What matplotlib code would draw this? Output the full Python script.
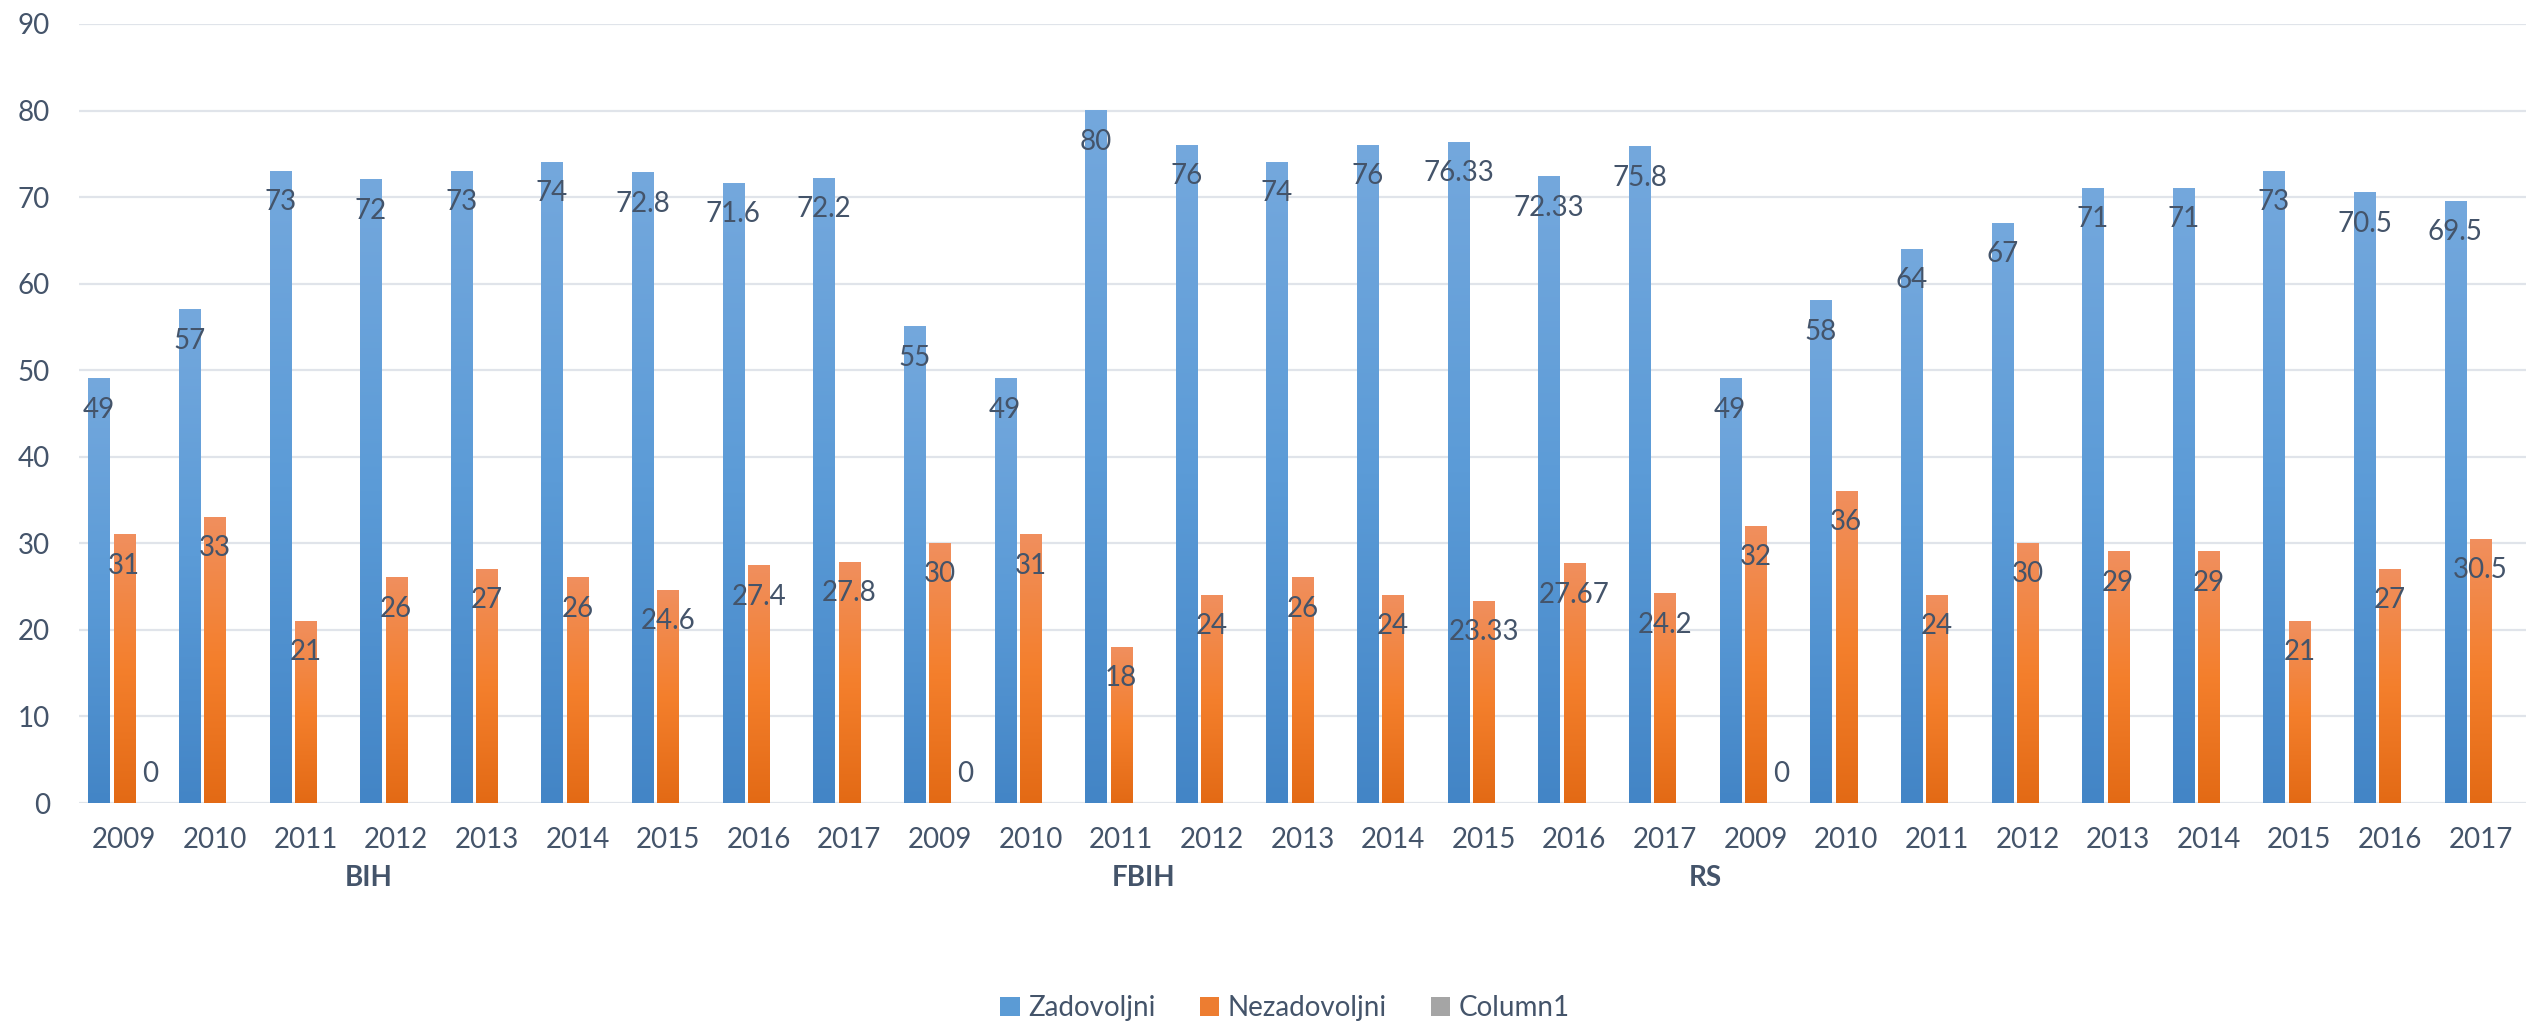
import numpy as np
import matplotlib
matplotlib.use("Agg")
import matplotlib.pyplot as plt
import matplotlib.transforms as mtransforms
from matplotlib.colors import LinearSegmentedColormap
from matplotlib.patches import Patch

plt.rcParams['font.family'] = ['Lato', 'DejaVu Sans']

groups = ['BIH', 'FBIH', 'RS']
years = ['2009', '2010', '2011', '2012', '2013', '2014', '2015', '2016', '2017']
series_names = ['Zadovoljni', 'Nezadovoljni', 'Column1']

zadovoljni = [49, 57, 73, 72, 73, 74, 72.8, 71.6, 72.2,
              55, 49, 80, 76, 74, 76, 76.33, 72.33, 75.8,
              49, 58, 64, 67, 71, 71, 73, 70.5, 69.5]
nezadovoljni = [31, 33, 21, 26, 27, 26, 24.6, 27.4, 27.8,
                30, 31, 18, 24, 26, 24, 23.33, 27.67, 24.2,
                32, 36, 24, 30, 29, 29, 21, 27, 30.5]
nan = float('nan')
column1 = [0, nan, nan, nan, nan, nan, nan, nan, nan,
           0, nan, nan, nan, nan, nan, nan, nan, nan,
           0, nan, nan, nan, nan, nan, nan, nan, nan]

TEXT = '#44546A'
GRID = '#E0E4EA'

W, H = 2526, 1024
fig = plt.figure(figsize=(W / 100, H / 100), dpi=100)
ax = fig.add_axes([79 / W, 1 - 803 / H, 1 - 79 / W, (803 - 24) / H])

n = len(zadovoljni)
x = np.arange(n)
bw = 0.235
off = 0.28

cm_blue = LinearSegmentedColormap.from_list('b', ['#4385C6', '#5B9BD7', '#74A8DD'])
cm_orange = LinearSegmentedColormap.from_list('o', ['#E36A15', '#F47F2C', '#F08F5E'])
cm_gray = LinearSegmentedColormap.from_list('g', ['#8F8F8F', '#A5A5A5', '#B5B5B5'])
grad = np.linspace(0, 1, 256).reshape(-1, 1)


def grad_bars(xs, vals, cmap, label_dy):
    bars = ax.bar(xs, vals, bw, color='none', edgecolor='none', zorder=2)
    for b, v in zip(bars, vals):
        if not np.isfinite(v):
            continue
        x0 = b.get_x()
        h = b.get_height()
        if h > 0:
            ax.imshow(grad, extent=[x0, x0 + bw, 0, h], origin='lower',
                      aspect='auto', cmap=cmap, zorder=2, interpolation='bilinear')
        dy = label_dy if v > 0 else 29
        ax.annotate(f"{v:g}", (x0 + bw / 2, v), xytext=(0, dy),
                    textcoords='offset pixels', ha='center', va='center',
                    fontsize=20, color=TEXT, zorder=4)


grad_bars(x - off, zadovoljni, cm_blue, -31)
grad_bars(x, nezadovoljni, cm_orange, -31)
grad_bars(x + off, column1, cm_gray, -31)

ax.set_xlim(-0.5, n - 0.5)
ax.set_ylim(0, 90)
ax.set_yticks(np.arange(0, 91, 10))
ax.yaxis.grid(True, color=GRID, linewidth=1.6, zorder=0)
ax.set_axisbelow(True)
for s in ax.spines.values():
    s.set_visible(False)
ax.axhline(0, color=GRID, linewidth=1.8, zorder=1)

ax.set_xticks(x)
ax.set_xticklabels(years * len(groups))
ax.tick_params(axis='x', length=0, pad=17, labelsize=20, labelcolor=TEXT)
ax.tick_params(axis='y', length=0, pad=21, labelsize=20, labelcolor=TEXT)

trans = mtransforms.blended_transform_factory(ax.transData, fig.transFigure)
group_pos = [2.7, 11.25, 17.45]
for g, p in zip(groups, group_pos):
    ax.text(p, 1 - 878 / H, g, transform=trans, ha='center', va='center',
            fontsize=20, fontweight='bold', color=TEXT)

handles = [Patch(facecolor='#5B9BD5'), Patch(facecolor='#ED7D31'), Patch(facecolor='#A5A5A5')]
fig.legend(handles, series_names, loc='center', bbox_to_anchor=(1285 / W, 1 - 1008 / H),
           ncol=3, frameon=False, fontsize=20, labelcolor=TEXT,
           handlelength=0.7, handleheight=0.7, handletextpad=0.3, columnspacing=1.6)

fig.savefig('out.png', dpi=100)
